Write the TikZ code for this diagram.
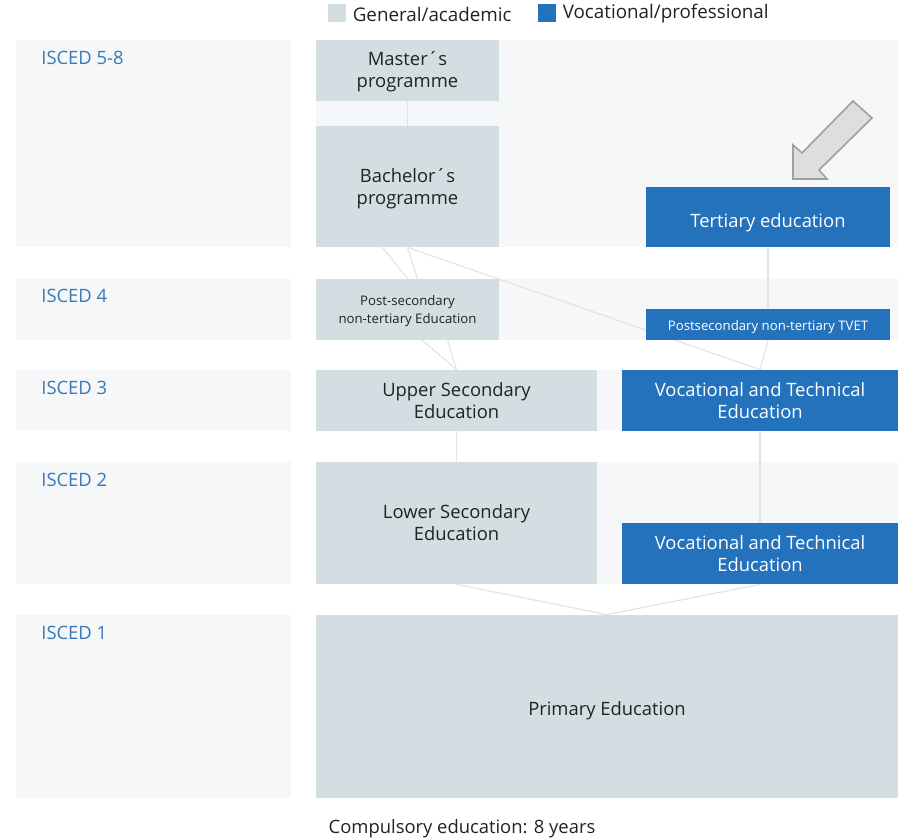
\documentclass[tikz,border=0pt]{standalone}
\usepackage{fontspec}
\setmainfont{Open Sans}
\usetikzlibrary{calc}
\usetikzlibrary{positioning}
\usetikzlibrary{backgrounds}
\definecolor{genfill}{HTML}{D3DEE3}
\definecolor{vocfill}{HTML}{2472BC}
\definecolor{bandfill}{HTML}{F5F7F8}
\definecolor{iscedblue}{HTML}{3A78B9}
\definecolor{linkgray}{HTML}{E1E4E6}
\definecolor{textdark}{HTML}{222222}
\definecolor{arrowfill}{HTML}{DEDEDE}
\definecolor{arrowline}{HTML}{A0A0A0}

\begin{document}
\begin{tikzpicture}[x=0.5pt,y=-0.5pt,
    genbox/.style={fill=genfill, text=textdark, align=center, inner sep=0pt, font=\fontsize{9.2}{11}\selectfont},
    vocbox/.style={fill=vocfill, text=white, align=center, inner sep=0pt, font=\fontsize{9.2}{11}\selectfont},
    oneline/.style={text depth=0pt},
    smalltext/.style={font=\fontsize{6.6}{9}\selectfont},
    isced/.style={anchor=west, text=iscedblue, inner sep=0pt, font=\fontsize{9.2}{11}\selectfont},
    keybox/.style={minimum size=9pt, inner sep=0pt},
    plain/.style={text=textdark, inner sep=0pt, font=\fontsize{9.4}{11}\selectfont},
    link/.style={draw=linkgray, line width=0.6pt}]
    \useasboundingbox (0,0) rectangle (898,839);

    % Level bands
    \begin{scope}[on background layer]
        \fill[bandfill] (16,40) rectangle (291,247) (316,40) rectangle (898,247);
        \fill[bandfill] (16,279) rectangle (291,340) (316,279) rectangle (898,340);
        \fill[bandfill] (16,370) rectangle (291,431) (316,370) rectangle (898,431);
        \fill[bandfill] (16,462) rectangle (291,584) (316,462) rectangle (898,584);
        \fill[bandfill] (16,615) rectangle (291,798);
    \end{scope}

    % Legend
    \node[keybox, fill=genfill] (genkey) at (337,13) {};
    \node[plain, right=3pt of genkey, yshift=-0.5pt] (gentext) {General/academic};
    \node[keybox, fill=vocfill] (vockey) at (547,13) {};
    \node[plain, right=3pt of vockey, yshift=-0.5pt] (voctext) {Vocational/professional};

    % ISCED labels
    \node[isced] (isced58) at (41,58) {ISCED 5-8};
    \node[isced] (isced4) at (41,296) {ISCED 4};
    \node[isced] (isced3) at (41,388) {ISCED 3};
    \node[isced] (isced2) at (41,480) {ISCED 2};
    \node[isced] (isced1) at (41,633) {ISCED 1};

    % Programmes
    \node[genbox, minimum width=91.5pt, minimum height=30.5pt, text depth=1.2pt] (master) at (407.5,70.5) {Master´s\\programme};
    \node[genbox, minimum width=91.5pt, minimum height=60.5pt, text depth=0.2pt] (bachelor) at (407.5,186.5) {Bachelor´s\\programme};
    \node[vocbox, oneline, text height=10.5pt, minimum width=122pt, minimum height=30pt] (tertiary) at (768,217) {Tertiary education};
    \node[genbox, smalltext, minimum width=91.5pt, minimum height=30.5pt, text depth=0.5pt] (post) at (407.5,309.5) {Post-secondary\\non-tertiary Education};
    \node[vocbox, smalltext, oneline, text height=5.8pt, minimum width=122pt, minimum height=15.5pt] (tvet) at (768,324.5) {Postsecondary non-tertiary TVET};
    \node[genbox, minimum width=140.5pt, minimum height=30.5pt] (upper) at (456.5,400.5) {Upper Secondary\\Education};
    \node[vocbox, minimum width=138pt, minimum height=30.5pt] (voc3) at (760,400.5) {Vocational and Technical\\Education};
    \node[genbox, minimum width=140.5pt, minimum height=61pt] (lower) at (456.5,523) {Lower Secondary\\Education};
    \node[vocbox, minimum width=138pt, minimum height=30.5pt] (voc2) at (760,553.5) {Vocational and Technical\\Education};
    \node[genbox, oneline, text height=8.5pt, minimum width=291pt, minimum height=91.5pt] (primary) at (607,706.5) {Primary Education};

    % Pathways
    \begin{scope}[on background layer]
        \draw[link] (master) -- (bachelor);
        \draw[link] ($(bachelor.south)+(-25,0)$) -- (post.north);
        \draw[link] (bachelor.south) -- ($(post.north)+(10,0)$);
        \draw[link] (bachelor.south) -- (voc3.north);
        \draw[link] (tertiary) -- (tvet);
        \draw[link] (tvet.south) -- (voc3.north);
        \draw[link] ($(post.south)+(15,0)$) -- (upper.north);
        \draw[link] ($(post.south)+(40,0)$) -- (upper.north);
        \draw[link] (upper) -- (lower);
        \draw[link] (voc3) -- (voc2);
        \draw[link] (lower.south) -- (primary.north);
        \draw[link] (voc2.south) -- (primary.north);
    \end{scope}

    % Pointer to tertiary education
    \draw[draw=arrowline, fill=arrowfill, line width=0.8pt] (793,179) -- (793,145) -- (802,153) -- (853,101)
        -- (872,118) -- (819,170) -- (827,179) -- cycle;

    \node[plain, font=\fontsize{9.2}{11}\selectfont] (compulsory) at (462,829) {Compulsory education: 8 years};
\end{tikzpicture}
\end{document}
